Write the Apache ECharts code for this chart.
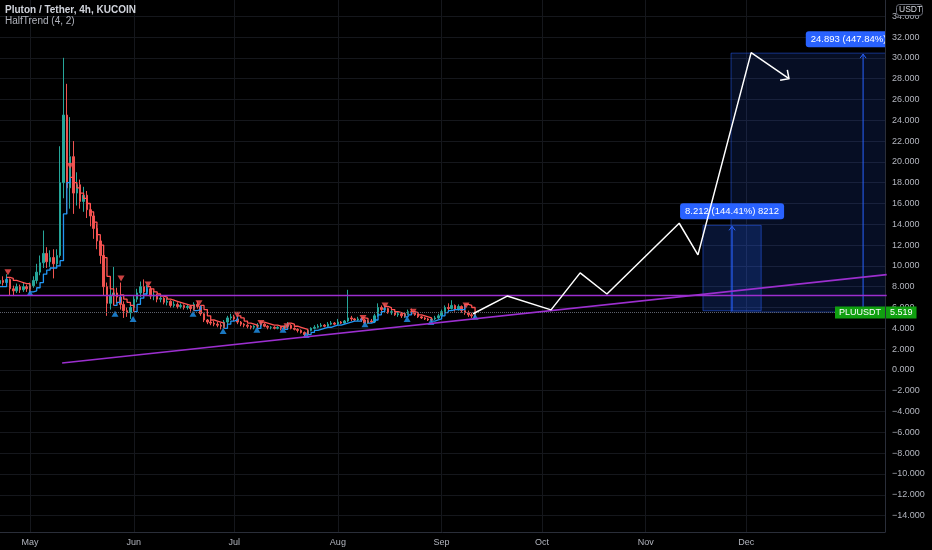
<!DOCTYPE html>
<html><head><meta charset="utf-8">
<script src="https://cdn.jsdelivr.net/npm/echarts@6/dist/echarts.min.js"></script>
<style>html,body{margin:0;padding:0;background:#000;}#c{width:932px;height:550px;}</style>
</head><body><div id="c"></div>
<script>
// x values are days counted from 1 May
const firstDay = -9;
// [open, close, low, high] daily candles
const candles = [
[8.3,8.6,8.0,8.9],[8.6,8.4,8.1,9.0],[8.4,8.7,8.2,9.2],[8.7,7.8,7.2,8.8],[7.8,7.6,7.1,8.1],
[7.6,8.0,7.4,8.3],[8.0,7.7,7.4,8.2],[7.7,8.0,7.5,8.4],[8.0,7.8,7.5,8.2],[7.8,8.1,7.4,8.4],
[8.1,8.6,7.9,9.0],[8.6,9.4,8.3,10.2],[9.4,10.3,9.1,11.0],[10.3,11.2,9.8,13.4],[11.2,10.4,9.8,11.8],
[10.4,10.8,9.9,11.5],[10.8,10.2,8.8,11.6],[10.2,11.0,9.8,11.6],[11.0,18.0,10.8,21.5],[18.0,24.5,16.5,30.0],
[24.5,17.5,15.0,27.5],[17.5,20.5,15.5,24.3],[20.5,17.0,15.0,22.0],[17.0,17.8,15.8,19.0],[17.8,16.2,15.5,18.3],
[16.2,16.8,15.2,17.6],[16.8,15.4,14.6,17.2],[15.4,14.8,13.8,16.0],[14.8,13.6,12.6,15.2],[13.6,12.4,11.6,14.0],
[12.4,11.0,10.2,12.8],[11.0,8.0,7.2,11.4],[8.0,6.4,5.2,8.4],[6.4,7.2,5.8,7.8],[7.2,7.4,6.6,9.9],
[7.4,7.0,6.4,7.9],[7.0,6.3,5.8,8.4],[6.3,5.7,5.0,6.6],[5.7,5.5,5.1,6.0],[5.5,6.0,4.9,6.3],
[6.0,6.8,5.7,7.1],[6.8,7.4,6.5,7.8],[7.4,8.0,7.0,8.5],[8.0,7.5,7.1,8.7],[7.5,7.8,7.1,8.2],
[7.8,7.1,6.8,8.0],[7.1,7.2,6.7,7.6],[7.2,6.8,6.5,7.3],[6.8,6.9,6.5,7.2],[6.9,6.5,6.3,7.0],
[6.5,6.6,6.2,6.9],[6.6,6.2,6.0,6.7],[6.2,6.3,6.0,6.6],[6.3,6.1,5.9,6.5],[6.1,6.2,5.9,6.4],
[6.2,6.0,5.8,6.3],[6.0,6.1,5.8,6.3],[6.1,5.9,5.6,6.2],[5.9,6.3,5.7,6.5],[6.3,6.1,5.9,6.6],
[6.1,5.4,5.2,6.2],[5.4,4.8,4.6,5.5],[4.8,4.6,4.4,4.9],[4.6,4.5,4.3,4.8],[4.5,4.4,4.2,4.7],
[4.4,4.3,4.1,4.6],[4.3,4.2,3.9,4.5],[4.2,4.6,4.0,4.8],[4.6,5.0,4.4,5.2],[5.0,5.1,4.8,5.4],
[5.1,4.9,4.7,5.3],[4.9,4.6,4.4,5.0],[4.6,4.4,4.2,4.7],[4.4,4.3,4.1,4.5],[4.3,4.2,4.0,4.4],
[4.2,4.1,3.9,4.3],[4.1,4.2,3.9,4.3],[4.2,4.3,4.0,4.5],[4.3,4.4,4.1,4.7],[4.4,4.2,4.1,4.5],
[4.2,4.1,3.9,4.3],[4.1,4.1,3.9,4.2],[4.1,4.0,3.9,4.2],[4.0,4.1,3.9,4.2],[4.1,4.0,3.8,4.2],
[4.0,4.2,3.9,4.3],[4.2,4.3,4.0,4.6],[4.3,4.0,3.9,4.4],[4.0,3.9,3.8,4.1],[3.9,3.8,3.6,4.0],
[3.8,3.6,3.5,3.9],[3.6,3.4,3.2,3.7],[3.4,3.8,3.3,3.9],[3.8,4.0,3.7,4.1],[4.0,4.1,3.9,4.3],
[4.1,4.2,4.0,4.4],[4.2,4.3,4.1,4.5],[4.3,4.2,4.1,4.4],[4.2,4.4,4.1,4.6],[4.4,4.5,4.3,4.7],
[4.5,4.4,4.3,4.6],[4.4,4.6,4.3,4.9],[4.6,4.5,4.4,4.7],[4.5,4.7,4.4,4.8],[4.7,5.0,4.6,7.7],
[5.0,4.9,4.7,5.2],[4.9,4.8,4.7,5.0],[4.8,4.9,4.7,5.1],[4.9,4.8,4.6,5.0],[4.8,4.5,4.4,4.9],
[4.5,4.7,4.4,4.8],[4.7,4.6,4.5,4.9],[4.6,5.2,4.5,5.4],[5.2,6.0,5.1,6.4],[6.0,5.8,5.6,6.2],
[5.8,5.9,5.6,6.3],[5.9,5.5,5.4,6.0],[5.5,5.6,5.3,5.8],[5.6,5.3,5.2,5.7],[5.3,5.4,5.1,5.6],
[5.4,5.2,5.0,5.5],[5.2,5.4,5.0,5.5],[5.4,5.6,5.3,5.8],[5.6,5.5,5.3,5.9],[5.5,5.3,5.2,5.6],
[5.3,5.1,5.0,5.4],[5.1,5.0,4.9,5.2],[5.0,4.9,4.8,5.1],[4.9,4.8,4.7,5.0],[4.8,4.9,4.6,5.0],
[4.9,5.0,4.8,5.2],[5.0,5.2,4.9,5.4],[5.2,5.6,5.1,5.8],[5.6,6.0,5.5,6.2],[6.0,5.9,5.7,6.4],
[5.9,6.2,5.8,6.7],[6.2,5.8,5.6,6.3],[5.8,6.1,5.7,6.3],[6.1,5.7,5.5,6.2],[5.7,5.5,5.3,6.3],
[5.5,5.3,5.1,5.7],[5.3,5.2,5.0,5.5],[5.2,5.519,5.0,5.6]
];
const monthDays = [0, 31, 61, 92, 123, 153, 184, 214];
const monthLabels = ['May', 'Jun', 'Jul', 'Aug', 'Sep', 'Oct', 'Nov', 'Dec'];
const yTicks = [-14,-12,-10,-8,-6,-4,-2,0,2,4,6,8,10,12,14,16,18,20,22,24,26,28,30,32,34];
// HalfTrend (4,2): [trend, first day, levels]
const htSegments = [
['u', -9, [8.0, 8.0]],
['d', -7, [8.9, 8.8, 8.6, 8.5, 8.4, 8.3, 8.3]],
['u', 0, [7.5, 7.6, 7.9, 8.4, 9.2, 9.6, 9.8, 9.8, 10.0, 10.5, 15.0, 18.0]],
['d', 12, [18.5, 18.0, 17.5, 17.0, 16.5, 16.0, 15.2, 14.2, 13.0, 12.0, 10.8, 9.0, 7.8]],
['u', 25, [6.2, 6.5]],
['d', 27, [7.2, 6.8, 6.5, 6.2]],
['u', 31, [5.6, 6.3, 6.9, 7.3]],
['d', 35, [8.0, 7.8, 7.5, 7.3, 7.1, 7.0, 6.8, 6.7, 6.6, 6.5, 6.4, 6.3, 6.2, 6.2]],
['u', 49, [5.7, 5.8]],
['d', 51, [6.2, 5.8, 5.2, 4.8, 4.7, 4.6, 4.5]],
['u', 58, [4.0, 4.4, 4.7, 4.8]],
['d', 62, [5.2, 5.0, 4.7, 4.5, 4.4, 4.3]],
['u', 68, [4.0]],
['d', 69, [4.6, 4.5, 4.4, 4.3, 4.3, 4.2, 4.2]],
['u', 76, [3.9]],
['d', 77, [4.5, 4.4, 4.2, 4.1, 4.0, 3.9]],
['u', 83, [3.4, 3.6, 3.8, 3.9, 4.0, 4.1, 4.1, 4.2, 4.3, 4.3, 4.4, 4.5, 4.6, 4.7, 4.7, 4.7]],
['d', 99, [5.0, 4.95]],
['u', 101, [4.5, 4.6, 4.8, 5.3, 5.6]],
['d', 106, [6.1, 6.0, 5.8, 5.6, 5.5, 5.4]],
['u', 112, [5.1, 5.3]],
['d', 114, [5.6, 5.5, 5.3, 5.2, 5.1, 5.0]],
['u', 120, [4.7, 4.8, 4.9, 5.2, 5.5, 5.7, 5.8, 5.8, 5.8, 5.8]],
['d', 130, [6.3, 6.2, 6.0]],
['u', 133, [5.1]]
];
const buySignals = [[0,7.4],[25.4,5.4],[30.8,4.9],[48.7,5.4],[57.7,3.75],[67.8,3.85],[75.6,3.85],[82.5,3.35],[100.1,4.4],[112.7,4.9],[119.8,4.6],[133,5.1]];
const sellSignals = [[-6.6,9.4],[12,19.6],[27.2,8.8],[35.3,8.2],[50.5,6.4],[61.9,5.3],[69,4.5],[76.8,4.2],[99.5,5.0],[106.1,6.2],[114.5,5.6],[130.3,6.2]];
const horizontalLevel = [[-9, 7.15], [256, 7.15]];
const risingTrendLine = [[9.6, 0.67], [256, 9.16]];
const projection = [[132.4,5.4],[142.6,7.1],[155.7,5.77],[164.4,9.33],[172.4,7.3],[194.0,14.1],[199.6,11.06],[215.5,30.5],[226.8,28.0]];
// price range tools: [start day, end day, low, high]
const priceRanges = [[209.5, 288.4, 5.558, 30.451], [201.1, 218.5, 5.687, 13.899]];
const priceRangeLabels = ['24.893 (447.84%) 24893', '8.212 (144.41%) 8212'];
const priceRangeAlpha = [0.14, 0.2];
const symbolName = 'PLUUSDT';
const lastPrice = 5.519;

const FONT = '"Liberation Sans", Arial, sans-serif';
const chart = echarts.init(document.getElementById('c'));

function htSeries(dir) {
  const pts = [];
  htSegments.forEach((seg, si) => {
    if (seg[0] !== dir) return;
    seg[2].forEach((v, k) => pts.push([seg[1] + k, v]));
    const next = htSegments[si + 1];
    if (next) pts.push([next[1], next[2][0]]);
    pts.push(['-', '-']);
  });
  return pts;
}

const fmtY = v => (v < 0 ? '\u2212' : '') + Math.abs(v).toFixed(3);

chart.setOption({
  animation: false,
  backgroundColor: '#000000',
  grid: { left: 0, right: 47, top: 0, bottom: 18, containLabel: false },
  xAxis: {
    type: 'value', min: -8.97, max: 255.5,
    axisLine: { show: true, onZero: false, lineStyle: { color: '#2a2e39' } },
    axisTick: { show: false, customValues: monthDays },
    axisLabel: { customValues: monthDays, formatter: v => monthLabels[monthDays.indexOf(v)] || '', color: '#b2b5be', fontSize: 9, fontFamily: FONT, margin: 6 },
    splitLine: { show: true, lineStyle: { color: '#15171c', width: 1 } }
  },
  yAxis: {
    type: 'value', position: 'right', min: -15.58, max: 35.56,
    axisLine: { show: true, onZero: false, lineStyle: { color: '#2a2e39' } },
    axisTick: { show: false, customValues: yTicks },
    axisLabel: { customValues: yTicks, formatter: fmtY, color: '#b2b5be', fontSize: 9, fontFamily: FONT, margin: 7 },
    splitLine: { show: true, lineStyle: { color: '#15171c', width: 1 } }
  },
  series: [
    {
      type: 'custom', name: 'ranges', clip: true, z: 1,
      data: priceRanges,
      renderItem: (params, api) => {
        const i = params.dataIndex;
        const p0 = api.coord([api.value(0), api.value(3)]);
        const p1 = api.coord([api.value(1), api.value(2)]);
        const cx = (p0[0] + p1[0]) / 2;
        return {
          type: 'group', children: [
            { type: 'rect', shape: { x: p0[0], y: p0[1], width: p1[0] - p0[0], height: p1[1] - p0[1] },
              style: { fill: 'rgba(41,98,255,' + priceRangeAlpha[i] + ')', stroke: 'rgba(41,98,255,0.5)', lineWidth: 1 } },
            { type: 'line', shape: { x1: cx, y1: p1[1], x2: cx, y2: p0[1] + 1 }, style: { stroke: '#2962ff', lineWidth: 1 } },
            { type: 'polyline', shape: { points: [[cx - 3, p0[1] + 5], [cx, p0[1] + 1], [cx + 3, p0[1] + 5]] }, style: { stroke: '#2962ff', fill: null, lineWidth: 1 } },
            { type: 'text', x: cx, y: p0[1] - 14, z2: 10,
              style: { text: priceRangeLabels[i], fill: '#ffffff', fontSize: 9.5, fontFamily: FONT, align: 'center', verticalAlign: 'middle',
                       backgroundColor: '#2962ff', padding: [3, 5], borderRadius: 3 } }
          ]
        };
      }
    },
    {
      type: 'candlestick', name: 'PLUUSDT', z: 2,
      data: candles.map((c, i) => [firstDay + i].concat(c)),
      encode: { x: 0, y: [1, 2, 3, 4] },
      barWidth: 2,
      itemStyle: { color: '#26a69a', color0: '#ef5350', borderColor: '#26a69a', borderColor0: '#ef5350', borderWidth: 1 },
      markLine: {
        silent: true, symbol: 'none', animation: false,
        lineStyle: { type: 'dotted', color: '#5d606b', width: 1 },
        data: [
          { yAxis: lastPrice, label: { show: true, position: 'end', distance: 1, formatter: lastPrice.toFixed(3), color: '#ffffff', backgroundColor: '#10a010', padding: [2, 4, 1, 4], fontSize: 9, fontFamily: FONT } },
          { yAxis: lastPrice, label: { show: true, position: 'insideEnd', distance: 0, formatter: symbolName, color: '#ffffff', backgroundColor: '#10a010', padding: [2, 4, 1, 4], fontSize: 9, fontFamily: FONT } }
        ]
      }
    },
    { type: 'line', name: 'HT up', z: 3, data: htSeries('u'), step: 'end', symbol: 'none', connectNulls: false, lineStyle: { color: '#2196f3', width: 1.3 } },
    { type: 'line', name: 'HT down', z: 3, data: htSeries('d'), step: 'end', symbol: 'none', connectNulls: false, lineStyle: { color: '#ff5252', width: 1.3 } },
    { type: 'scatter', name: 'buy', z: 4, data: buySignals, symbol: 'triangle', symbolSize: [7, 6], itemStyle: { color: '#2196f3' } },
    { type: 'scatter', name: 'sell', z: 4, data: sellSignals, symbol: 'triangle', symbolRotate: 180, symbolSize: [7, 6], itemStyle: { color: '#ff5252' } },
    { type: 'line', name: 'level', z: 5, data: horizontalLevel, symbol: 'none', lineStyle: { color: '#9c2fcf', width: 1.6 } },
    { type: 'line', name: 'trend', z: 5, data: risingTrendLine, symbol: 'none', lineStyle: { color: '#9c2fcf', width: 1.6 } },
    { type: 'line', name: 'projection', z: 6, data: projection, symbol: 'none', lineStyle: { color: '#ffffff', width: 1.5 } },
    {
      type: 'custom', name: 'arrow', z: 6, clip: true,
      data: [projection[projection.length - 2].concat(projection[projection.length - 1])],
      renderItem: (params, api) => {
        const a = api.coord([api.value(0), api.value(1)]);
        const b = api.coord([api.value(2), api.value(3)]);
        const ang = Math.atan2(a[1] - b[1], a[0] - b[0]);
        const L = 9, w = Math.PI / 4;
        return { type: 'polyline',
          shape: { points: [[b[0] + L * Math.cos(ang + w), b[1] + L * Math.sin(ang + w)], b, [b[0] + L * Math.cos(ang - w), b[1] + L * Math.sin(ang - w)]] },
          style: { stroke: '#ffffff', fill: null, lineWidth: 1.5 } };
      }
    }
  ],
  graphic: [
    { type: 'text', left: 5, top: 5, z: 100, style: { text: 'Pluton / Tether, 4h, KUCOIN', fill: '#d1d4dc', fontSize: 10, fontWeight: 'bold', fontFamily: FONT } },
    { type: 'text', left: 5, top: 16, z: 100, style: { text: 'HalfTrend (4, 2)', fill: '#b2b5be', fontSize: 10, fontFamily: FONT } },
    { type: 'rect', left: 896, top: 4, z: 100, shape: { width: 26, height: 11, r: 3 }, style: { fill: '#000000', stroke: '#6a6d78', lineWidth: 1 } },
    { type: 'text', left: 899, top: 5.5, z: 101, style: { text: 'USDT', fill: '#d1d4dc', fontSize: 8.5, fontFamily: FONT } }
  ]
});
</script>
</body></html>
